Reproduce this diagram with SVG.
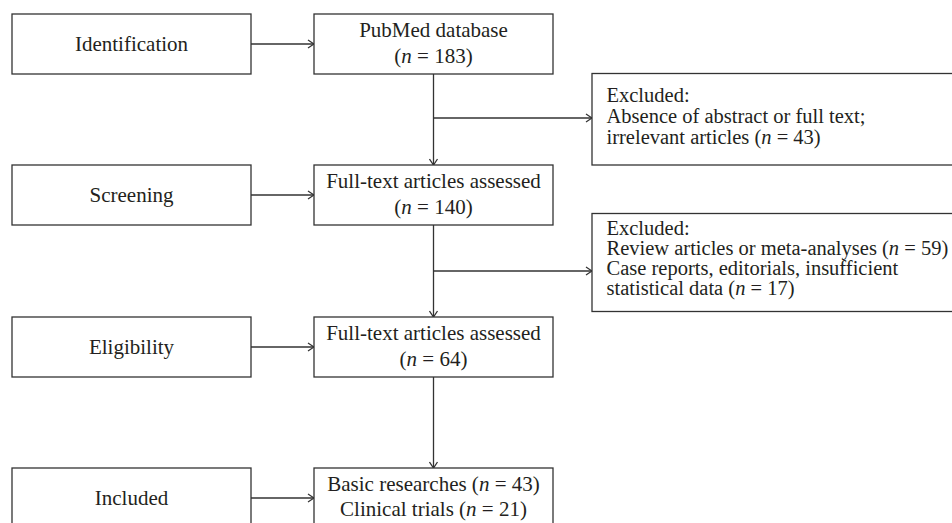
<svg xmlns="http://www.w3.org/2000/svg" width="952" height="523" viewBox="0 0 952 523">
<style>
.box{fill:#fff;stroke:#333;stroke-width:1.3}
.ln{fill:none;stroke:#333;stroke-width:1.3}
text{font-family:"Liberation Serif","Times New Roman",serif;font-size:21px;fill:#231f20}
.c{text-anchor:middle}
.s{font-size:20.5px}
.i{font-style:italic}
</style>
<defs>
<marker id="ah" viewBox="0 0 10 10" refX="9" refY="5" markerWidth="10" markerHeight="10" markerUnits="userSpaceOnUse" orient="auto">
<path d="M3,1 L9,5 L3,9" fill="none" stroke="#333" stroke-width="1.3"/>
</marker>
</defs>
<rect width="952" height="523" fill="#fff"/>
<g id="connectors">
<line class="ln" x1="251" y1="44" x2="314" y2="44" marker-end="url(#ah)"/>
<line class="ln" x1="251" y1="195" x2="314" y2="195" marker-end="url(#ah)"/>
<line class="ln" x1="251" y1="347" x2="314" y2="347" marker-end="url(#ah)"/>
<line class="ln" x1="251" y1="498" x2="314" y2="498" marker-end="url(#ah)"/>
<line class="ln" x1="433.5" y1="74" x2="433.5" y2="165" marker-end="url(#ah)"/>
<line class="ln" x1="433.5" y1="225" x2="433.5" y2="317" marker-end="url(#ah)"/>
<line class="ln" x1="433.5" y1="377" x2="433.5" y2="468" marker-end="url(#ah)"/>
<line class="ln" x1="433.5" y1="118" x2="592" y2="118" marker-end="url(#ah)"/>
<line class="ln" x1="433.5" y1="271" x2="592" y2="271" marker-end="url(#ah)"/>
</g>
<g id="identification">
<rect class="box" x="12" y="14" width="239" height="60"/>
<text class="c" x="131.5" y="51">Identification</text>
</g>
<g id="screening">
<rect class="box" x="12" y="165" width="239" height="60"/>
<text class="c" x="131.5" y="202">Screening</text>
</g>
<g id="eligibility">
<rect class="box" x="12" y="317" width="239" height="60"/>
<text class="c" x="131.5" y="354">Eligibility</text>
</g>
<g id="included">
<rect class="box" x="12" y="468" width="239" height="70"/>
<text class="c" x="131.5" y="505">Included</text>
</g>
<g id="pubmed">
<rect class="box" x="314" y="14" width="239" height="60"/>
<text class="c" x="433.5" y="37">PubMed database</text>
<text class="c" x="433.5" y="63">(<tspan class="i">n</tspan> = 183)</text>
</g>
<g id="fulltext1">
<rect class="box" x="314" y="165" width="239" height="60"/>
<text class="c" x="433.5" y="188">Full-text articles assessed</text>
<text class="c" x="433.5" y="214">(<tspan class="i">n</tspan> = 140)</text>
</g>
<g id="fulltext2">
<rect class="box" x="314" y="317" width="239" height="60"/>
<text class="c" x="433.5" y="340">Full-text articles assessed</text>
<text class="c" x="433.5" y="366">(<tspan class="i">n</tspan> = 64)</text>
</g>
<g id="result">
<rect class="box" x="314" y="468" width="239" height="70"/>
<text class="c" x="433.5" y="491">Basic researches (<tspan class="i">n</tspan> = 43)</text>
<text class="c" x="433.5" y="516">Clinical trials (<tspan class="i">n</tspan> = 21)</text>
</g>
<g id="excluded1">
<rect class="box" x="592" y="73.5" width="400" height="91.5"/>
<text class="s" x="606.5" y="102">Excluded:</text>
<text class="s" x="606.5" y="123">Absence of abstract or full text;</text>
<text class="s" x="606.5" y="144">irrelevant articles (<tspan class="i">n</tspan> = 43)</text>
</g>
<g id="excluded2">
<rect class="box" x="592" y="213.5" width="400" height="98"/>
<text class="s" x="606.5" y="235">Excluded:</text>
<text class="s" x="606.5" y="255">Review articles or meta-analyses (<tspan class="i">n</tspan> = 59)</text>
<text class="s" x="606.5" y="275">Case reports, editorials, insufficient</text>
<text class="s" x="606.5" y="295">statistical data (<tspan class="i">n</tspan> = 17)</text>
</g>
</svg>
